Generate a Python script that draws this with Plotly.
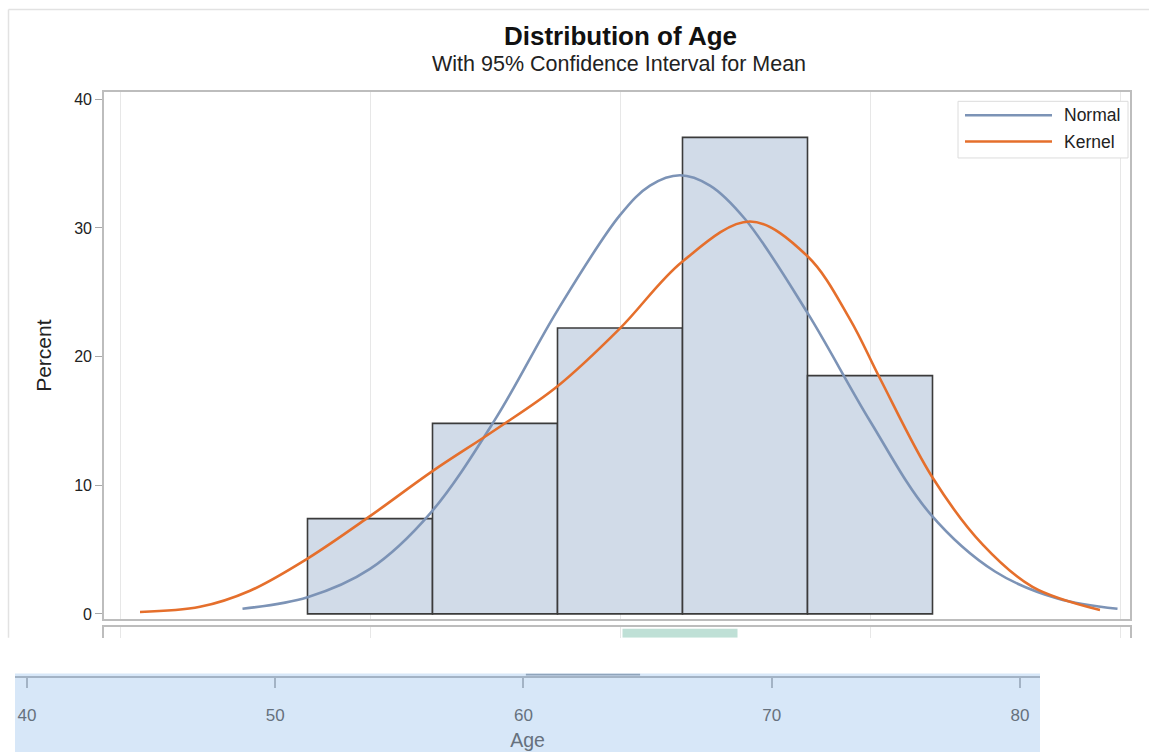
import plotly.graph_objects as go

# ---------------- data ----------------
bin_mid = [50, 55, 60, 65, 70]
bin_pct = [7.41, 14.81, 22.22, 37.04, 18.52]
bin_width = 5

normal_age = [44.9, 47.5, 50.0, 52.4, 55.0, 57.5, 60.0, 61.2, 62.4, 63.6, 65.0, 67.5, 70.0, 72.4, 75.0, 77.5, 79.9]
normal_pct = [0.4, 1.3, 3.5, 7.8, 15.1, 23.6, 31.0, 33.3, 34.1, 33.3, 30.7, 23.4, 15.0, 7.8, 3.3, 1.2, 0.4]

kernel_age = [40.8, 43.2, 45.2, 47.5, 50.0, 52.5, 55.0, 57.5, 60.0, 62.5, 65.2, 67.5, 69.2, 70.4, 72.5, 74.5, 76.5, 79.2]
kernel_pct = [0.15, 0.55, 1.8, 4.3, 7.6, 11.1, 14.3, 17.7, 22.2, 27.4, 30.5, 27.8, 22.9, 18.3, 10.6, 5.4, 2.1, 0.3]

ci_mean = [60.1, 64.7]

y_ticks = [0, 10, 20, 30, 40]
x_ticks = [40, 50, 60, 70, 80]

title_text = "Distribution of Age"
subtitle_text = "With 95% Confidence Interval for Mean"
legend_names = ["Normal", "Kernel"]

# ---------------- layout helpers ----------------
W, H = 1149, 756
def px(x):
    return x / W
def py(y):
    return 1 - y / H

FONT = "Liberation Sans, Arial, sans-serif"
C_NORMAL = "#7c93b6"
C_KERNEL = "#e56f2c"
C_FRAME = "#bdbdbd"
C_GRID = "#e7e7e7"
C_STRIP_TXT = "#66717d"

fig = go.Figure()

# histogram
fig.add_trace(go.Bar(
    x=bin_mid, y=bin_pct, width=bin_width,
    marker=dict(color="#d1dbe8", line=dict(color="#3b3b3b", width=1.6)),
    showlegend=False, hoverinfo="x+y", xaxis="x", yaxis="y",
))
# normal curve
fig.add_trace(go.Scatter(
    x=normal_age, y=normal_pct, mode="lines", name=legend_names[0],
    line=dict(color=C_NORMAL, width=2.6, shape="spline", smoothing=1.0),
    showlegend=False, xaxis="x", yaxis="y",
))
# kernel curve
fig.add_trace(go.Scatter(
    x=kernel_age, y=kernel_pct, mode="lines", name=legend_names[1],
    line=dict(color=C_KERNEL, width=2.6, shape="spline", smoothing=1.0),
    showlegend=False, xaxis="x", yaxis="y",
))
# confidence band panel (cut off)
fig.add_trace(go.Bar(
    y=[0.5], x=[ci_mean[1] - ci_mean[0]], base=[ci_mean[0]], width=1.0,
    orientation="h", marker=dict(color="#bfe0d6", line=dict(width=0)),
    showlegend=False, hoverinfo="skip", xaxis="x3", yaxis="y3",
))
# CI segment on the bottom strip axis line
fig.add_trace(go.Scatter(
    x=ci_mean, y=[0.3, 0.3], mode="lines",
    line=dict(color="#8fa4bb", width=3),
    showlegend=False, hoverinfo="skip", xaxis="x2", yaxis="y2",
))

shapes = []
annotations = []

# outer border of graph
shapes.append(dict(type="line", xref="paper", yref="paper",
                   x0=px(8.5), x1=px(8.5), y0=py(8.5), y1=py(641),
                   line=dict(color="#e2e2e2", width=1.5)))
shapes.append(dict(type="line", xref="paper", yref="paper",
                   x0=px(8.5), x1=1, y0=py(8.5), y1=py(8.5),
                   line=dict(color="#e2e2e2", width=1.5)))

# bottom light-blue strip
shapes.append(dict(type="rect", xref="paper", yref="paper", layer="below",
                   x0=px(15), x1=px(1040), y0=0, y1=py(677),
                   fillcolor="#d7e7f8", line=dict(width=0)))

# legend box (manual)
shapes.append(dict(type="rect", xref="paper", yref="paper",
                   x0=px(958), x1=px(1128), y0=py(158), y1=py(101),
                   fillcolor="white", line=dict(color="#dcdcdc", width=1)))
for i, (nm, col) in enumerate(zip(legend_names, [C_NORMAL, C_KERNEL])):
    yy = 115 + i * 26.5
    shapes.append(dict(type="line", xref="paper", yref="paper",
                       x0=px(965), x1=px(1052), y0=py(yy), y1=py(yy),
                       line=dict(color=col, width=2.6)))
    annotations.append(dict(text=nm, xref="paper", yref="paper",
                            x=px(1062), y=py(yy), xanchor="left", yanchor="middle",
                            showarrow=False, font=dict(family=FONT, size=17.5, color="#222")))

# titles
annotations.append(dict(text="<b>" + title_text + "</b>", xref="paper", yref="paper",
                        x=px(620), y=py(35), xanchor="center", yanchor="middle",
                        showarrow=False, font=dict(family=FONT, size=26, color="#111")))
annotations.append(dict(text=subtitle_text, xref="paper", yref="paper",
                        x=px(619), y=py(63), xanchor="center", yanchor="middle",
                        showarrow=False, font=dict(family=FONT, size=21.5, color="#222")))

fig.update_layout(
    width=W, height=H,
    margin=dict(l=0, r=0, t=0, b=0),
    paper_bgcolor="white", plot_bgcolor="rgba(0,0,0,0)",
    font=dict(family=FONT, color="#222"),
    barmode="overlay",
    shapes=shapes, annotations=annotations,
    xaxis=dict(
        domain=[px(104), px(1130)], range=[39.36, 80.4], anchor="y",
        tickvals=x_ticks, showticklabels=False, ticks="",
        showgrid=True, gridcolor=C_GRID, gridwidth=1, zeroline=False,
        showline=True, linecolor=C_FRAME, linewidth=1.6, mirror=True,
    ),
    yaxis=dict(
        domain=[py(622), py(92)], range=[-0.386, 40.54], anchor="x",
        tickvals=y_ticks, ticks="outside", ticklen=7, tickcolor="#a8a8a8",
        tickfont=dict(family=FONT, size=16, color="#222"),
        showgrid=False, zeroline=False,
        showline=True, linecolor=C_FRAME, linewidth=1.6, mirror=True,
        title=dict(text="Percent", font=dict(family=FONT, size=21, color="#222"), standoff=17),
    ),
    xaxis3=dict(
        domain=[px(104), px(1130)], range=[39.36, 80.4], anchor="y3", side="top",
        tickvals=x_ticks, showticklabels=False, ticks="",
        showgrid=True, gridcolor=C_GRID, zeroline=False,
        showline=True, linecolor=C_FRAME, linewidth=1.6, mirror=False,
    ),
    yaxis3=dict(
        domain=[py(641), py(630)], range=[0, 1.2], anchor="x3",
        showticklabels=False, ticks="", showgrid=False, zeroline=False,
        showline=True, linecolor=C_FRAME, linewidth=1.6, mirror=True,
    ),
    xaxis2=dict(
        domain=[px(15), px(1040)], range=[39.52, 80.81], anchor="y2", side="bottom",
        tickvals=x_ticks, ticks="outside", ticklen=10, tickcolor="#a3b3c5", tickwidth=1.5,
        tickfont=dict(family=FONT, size=17, color=C_STRIP_TXT), ticklabelstandoff=13,
        showgrid=False, zeroline=False,
        showline=True, linecolor="#a3b3c5", linewidth=2,
        title=dict(text="Age", font=dict(family=FONT, size=19.5, color=C_STRIP_TXT), standoff=9),
    ),
    yaxis2=dict(
        domain=[py(679), py(677)], range=[0, 1], anchor="x2",
        visible=False,
    ),
)

# remove the default page margin so the figure fills the 1149x756 window exactly
page_css = (
    "var s=document.createElement('style');"
    "s.textContent='html,body{margin:0;padding:0;overflow:hidden;width:1149px;height:756px;}';"
    "document.head.appendChild(s);"
)
fig.write_html(
    "out.html",
    config={"displayModeBar": False},
    post_script=page_css,
)
